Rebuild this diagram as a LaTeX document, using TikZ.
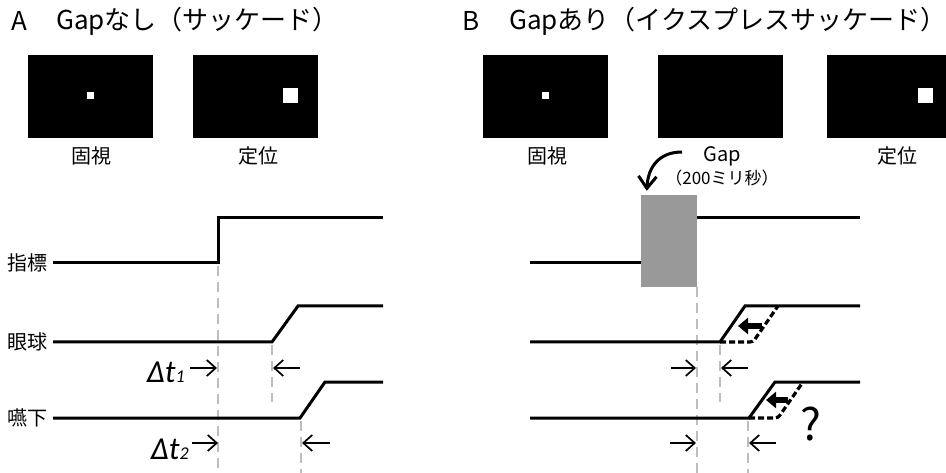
\documentclass[tikz,border=0pt]{standalone}
\usepackage{fontspec}
\setmainfont{Noto Sans CJK JP}
\newfontfamily\dtfont{Carlito}
\usetikzlibrary{arrows.meta}
\definecolor{gapgray}{HTML}{999999}
\definecolor{guidegray}{HTML}{BDBDBD}
\tikzset{
  screen/.style={fill=black, draw=black, minimum width=124pt, minimum height=82pt, inner sep=0pt},
  dotsm/.style={fill=white, minimum size=7pt, inner sep=0pt},
  dotlg/.style={fill=white, minimum size=15pt, inner sep=0pt},
  lbl/.style={font=\fontsize{20}{20}\selectfont, inner sep=0pt},
  ttl/.style={font=\fontsize{26}{26}\selectfont, anchor=west, inner sep=0pt},
  sig/.style={line width=3pt, line join=miter},
  alt/.style={line width=3.2pt, dash pattern=on 6pt off 3pt, rounded corners=3pt},
  guide/.style={draw=guidegray, line width=1.5pt, dash pattern=on 10pt off 6pt},
  meas/.style={line width=1.7pt, -{Straight Barb[length=9pt,width=16pt]}},
  shiftarrow/.style={line width=6pt, -{Triangle[length=10pt,width=16pt]}},
  dt/.style={font=\dtfont\itshape\fontsize{32}{32}\selectfont, inner sep=0pt, anchor=base east}
}
\begin{document}
\begin{tikzpicture}[x=1pt,y=-1pt]
\useasboundingbox (0,0) rectangle (946,473);
% titles
\node[ttl] (tA) at (11,21) {A};
\node[ttl] (tAt) at (56,21) {Gapなし（サッケード）};
\node[ttl] (tB) at (462,21) {B};
\node[ttl] (tBt) at (509,21) {Gapあり（イクスプレスサッケード）};
% screens A
\node[screen] (sA1) at (90,96) {};
\node[dotsm] (dA1) at (90.5,95.5) {};
\node[screen] (sA2) at (255,96) {};
\node[dotlg] (dA2) at (290.5,95.5) {};
\node[lbl] (lA1) at (91,156) {固視};
\node[lbl] (lA2) at (258,156) {定位};
% screens B
\node[screen] (sB1) at (545.5,96) {};
\node[dotsm] (dB1) at (545.5,95.5) {};
\node[screen] (sB2) at (720,96) {};
\node[screen] (sB3) at (889,96) {};
\node[dotlg] (dB3) at (925.5,95.5) {};
\node[lbl] (lB1) at (547,156) {固視};
\node[lbl] (lB3) at (897,156) {定位};
\node[lbl] (gapL) at (722,156) {Gap};
\node[inner sep=0pt, font=\fontsize{17}{17}\selectfont] (gapT) at (722,178) {（200ミリ秒）};
% gap box
\node[fill=gapgray, minimum width=56pt, minimum height=92pt, inner sep=0pt] (gapbox) at (669,241) {};
\coordinate (cstart) at (682,152);
\draw[line width=3pt, -{Straight Barb[length=12pt,width=18pt]}] (cstart) .. controls (660,152) and (648,166) .. ([shift={(6,-4)}]gapbox.north west);
% row labels
\node[lbl] (r1) at (28,263) {指標};
\node[lbl] (r2) at (28,342) {眼球};
\node[lbl] (r3) at (28,418) {嚥下};
% guides A
\draw[guide] (218,266) -- (218,473);
\draw[guide] (272,345) -- (272,402);
\draw[guide] (301,421) -- (301,473);
% guides B
\draw[guide] (697,287) -- (697,473);
\draw[guide] (720,345) -- (720,402);
\draw[guide] (748,421) -- (748,473);
% signals A
\draw[sig] (53,263) -- (218,263) -- (218,218) -- (383,218);
\draw[sig] (53,342) -- (272,342) -- (298,306) -- (383,306);
\draw[sig] (53,418) -- (300,418) -- (325,382) -- (383,382);
% signals B
\draw[sig] (530,263) -- (gapbox.west |- 0,263);
\draw[sig] (gapbox.east |- 0,218) -- (860,218);
\draw[sig] (530,342) -- (720,342) -- (745,306) -- (860,306);
\draw[sig] (530,418) -- (749,418) -- (775,382) -- (860,382);
\draw[alt] (720,342) -- (753,342) -- (778,306);
\draw[alt] (749,418) -- (778,418) -- (803,382);
\draw[shiftarrow] (762,326) -- (738,326);
\draw[shiftarrow] (788,400) -- (766,400);
\node[inner sep=0pt, font=\fontsize{44}{44}\selectfont] (qm) at (811,424) {?};
% measurement arrows A
\node[dt] (dt1) at (185,382) {Δt{\fontsize{18}{18}\selectfont 1}};
\node[dt] (dt2) at (189,459) {Δt{\fontsize{18}{18}\selectfont 2}};
\draw[meas] (190,368) -- (217,368);
\draw[meas] (300,368) -- (273,368);
\draw[meas] (192,443) -- (218,443);
\draw[meas] (330,443) -- (302,443);
% measurement arrows B
\draw[meas] (671,368) -- (696,368);
\draw[meas] (748,368) -- (721,368);
\draw[meas] (670,443) -- (696,443);
\draw[meas] (776,443) -- (749,443);
\end{tikzpicture}
\end{document}
